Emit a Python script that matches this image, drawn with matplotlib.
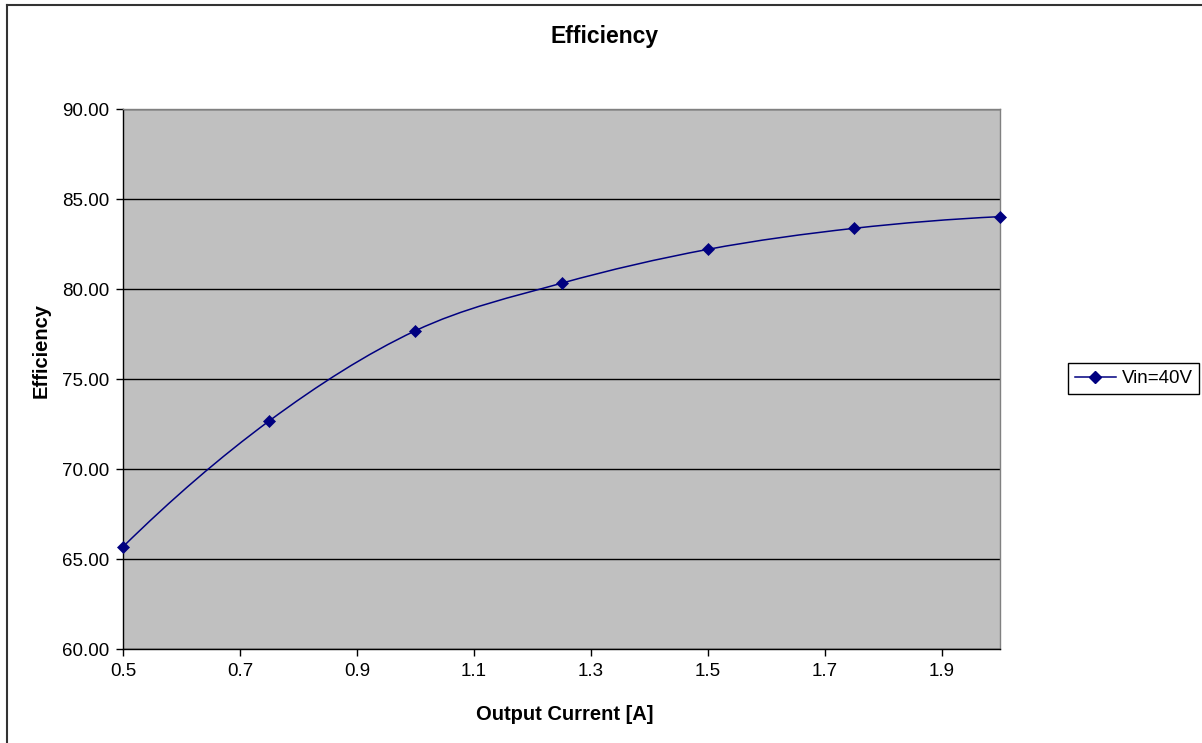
import matplotlib
matplotlib.use("Agg")
import matplotlib.pyplot as plt
import numpy as np
from matplotlib.path import Path
from matplotlib.patches import PathPatch
from matplotlib.lines import Line2D

plt.rcParams['font.family'] = ['Liberation Sans', 'DejaVu Sans']

# data
current = [0.5, 0.75, 1.0, 1.25, 1.5, 1.75, 2.0]
efficiency = [65.68, 72.67, 77.68, 80.32, 82.2, 83.37, 84.02]
xticks = [0.5, 0.7, 0.9, 1.1, 1.3, 1.5, 1.7, 1.9]
yticks = [60, 65, 70, 75, 80, 85, 90]

navy = "#000080"


def smooth_path(xs, ys):
    # excel style smoothed line: cubic bezier through the points
    pts = np.column_stack([xs, ys])
    n = len(pts)
    verts = [pts[0]]
    codes = [Path.MOVETO]
    for i in range(n - 1):
        p1 = pts[i]
        p2 = pts[i + 1]
        if i > 0:
            p0 = pts[i - 1]
        else:
            p0 = 3 * pts[0] - 3 * pts[1] + pts[2]
        if i + 2 < n:
            p3 = pts[i + 2]
        else:
            p3 = 3 * pts[n - 1] - 3 * pts[n - 2] + pts[n - 3]
        c1 = p1 + (p2 - p0) / 6.0
        c2 = p2 - (p3 - p1) / 6.0
        verts += [c1, c2, p2]
        codes += [Path.CURVE4] * 3
    return Path(verts, codes)


fig = plt.figure(figsize=(12.02, 7.43), dpi=100)
ax = fig.add_axes([123 / 1202, 1 - 649 / 743, 877 / 1202, 540 / 743])
ax.set_facecolor("#C0C0C0")

ax.add_patch(PathPatch(smooth_path(current, efficiency), facecolor='none',
                       edgecolor=navy, lw=1.1, zorder=3))
ax.plot(current, efficiency, linestyle='none', marker='D', markersize=6.3,
        color=navy, markeredgewidth=0.5, zorder=4, clip_on=False)
# legend handle
ax.plot([], [], '-D', color=navy, lw=1.1, markersize=6.3, label="Vin=40V")

ax.set_xlim(0.5, 2.0)
ax.set_ylim(60, 90)
ax.set_xticks(xticks)
ax.set_xticklabels(["%.1f" % t for t in xticks])
ax.set_yticks(yticks)
ax.set_yticklabels(["%.2f" % t for t in yticks])
ax.tick_params(direction='out', length=5, width=1, labelsize=13.5, pad=5)
ax.grid(axis='y', color='black', linewidth=1)
ax.set_axisbelow(True)

ax.spines['left'].set_color('black')
ax.spines['bottom'].set_color('black')
ax.spines['top'].set_color('#808080')
ax.spines['right'].set_color('#808080')
for s in ax.spines.values():
    s.set_linewidth(1)

fig.text(605 / 1202, 1 - 36 / 743, "Efficiency", ha='center', va='center',
         fontsize=16.5, fontweight='bold')
fig.text(565 / 1202, 1 - 715 / 743, "Output Current [A]", ha='center',
         va='center', fontsize=14.5, fontweight='bold')
fig.text(41 / 1202, 1 - 350 / 743, "Efficiency", ha='center', va='center',
         rotation=90, fontsize=14.5, fontweight='bold')

leg = fig.legend(loc='center left', bbox_to_anchor=(1068 / 1202, 1 - 378.5 / 743),
                 fontsize=13.5, frameon=True, fancybox=False, framealpha=1,
                 edgecolor='black', handlelength=2.2, borderpad=0.35,
                 handletextpad=0.3, borderaxespad=0)
leg.get_frame().set_linewidth(1)

# outer chart border (top and left only visible)
fig.add_artist(Line2D([7 / 1202, 7 / 1202], [0, 1 - 5 / 743], color='#333333', lw=1.5))
fig.add_artist(Line2D([7 / 1202, 1], [1 - 5 / 743, 1 - 5 / 743], color='#333333', lw=1.5))

fig.savefig("out.png", dpi=100)
